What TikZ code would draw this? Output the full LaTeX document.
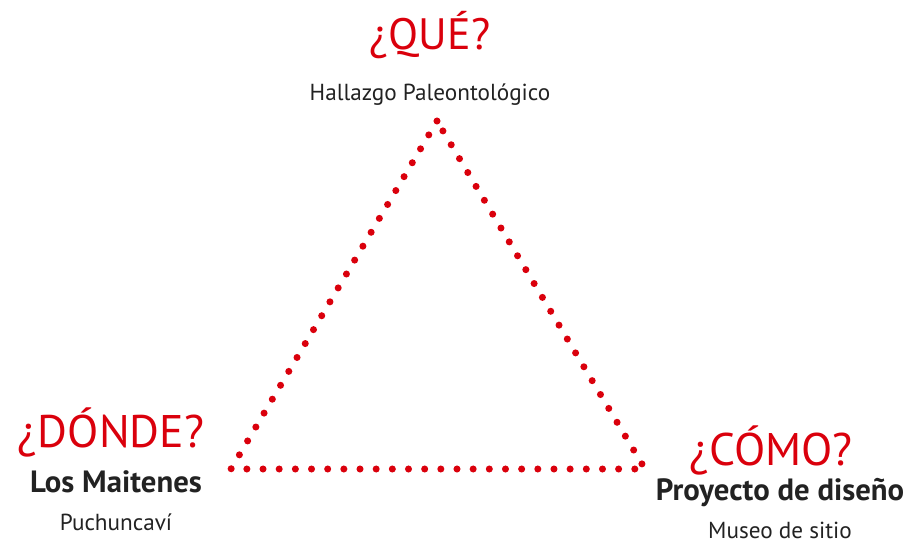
\documentclass[tikz,border=0pt]{standalone}
\usepackage{fontspec}
\setmainfont{PT Sans}
\usepackage{xcolor}
\usetikzlibrary{positioning}
\definecolor{qred}{RGB}{218,0,12}
\definecolor{txtgray}{RGB}{34,34,34}

\begin{document}
\begin{tikzpicture}[x=0.02cm,y=-0.02cm,
    question/.style={text=qred, font=\fontsize{26}{30}\selectfont, anchor=base, inner sep=0pt},
    place/.style={text=txtgray, font=\bfseries\fontsize{17.5}{20}\selectfont, anchor=base, inner sep=0pt},
    detail/.style={text=txtgray, font=\fontsize{13.2}{15}\selectfont, anchor=base, inner sep=0pt},
    dots/.style={qred, line width=4pt, line cap=round, dash pattern=on 0pt off 9.2pt}]
    \useasboundingbox (0,0) rectangle (917,542);

    % Triangle corners
    \coordinate (top) at (437,121);
    \coordinate (left) at (231,469);
    \coordinate (right) at (645,469);
    \draw[dots] (top) -- (left) -- (right) -- cycle;

    % Top: what
    \node[question, font=\fontsize{25}{30}\selectfont] (que) at (430,49) {¿QUÉ?};
    \node[detail] (queSub) at (430,100) {Hallazgo Paleontológico};

    % Left: where
    \node[question] (donde) at (111,447) {¿DÓNDE?};
    \node[place] (dondeSub) at (116,492) {Los Maitenes};
    \node[detail] (dondeDet) at (116,530) {Puchuncaví};

    % Right: how
    \node[question] (como) at (771,465) {¿CÓMO?};
    \node[place] (comoSub) at (780,500) {Proyecto de diseño};
    \node[detail] (comoDet) at (780,538) {Museo de sitio};
\end{tikzpicture}
\end{document}
